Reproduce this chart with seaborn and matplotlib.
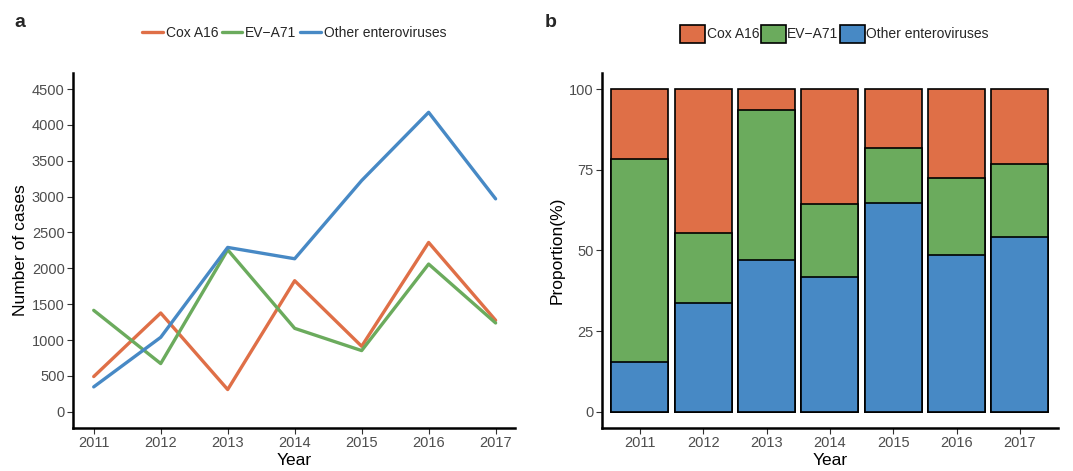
import matplotlib
matplotlib.use("Agg")
import matplotlib.pyplot as plt
import seaborn as sns
import pandas as pd
import numpy as np
from matplotlib.patches import Patch
from matplotlib.lines import Line2D

years = [2011, 2012, 2013, 2014, 2015, 2016, 2017]
cox_a16 = [492, 1378, 311, 1828, 914, 2361, 1276]
ev_a71 = [1415, 673, 2259, 1164, 854, 2060, 1239]
other_ev = [348, 1039, 2292, 2134, 3224, 4175, 2969]
series_names = ["Cox A16", "EV\u2212A71", "Other enteroviruses"]
colors = ["#DF6F47", "#6BAB5D", "#4789C5"]

sns.set_theme(style="ticks")
plt.rcParams['font.family'] = ['Liberation Sans', 'DejaVu Sans']

long = pd.DataFrame({
    "Year": years * 3,
    "Cases": cox_a16 + ev_a71 + other_ev,
    "Virus": [series_names[0]] * 7 + [series_names[1]] * 7 + [series_names[2]] * 7,
})

tot = np.array(cox_a16) + np.array(ev_a71) + np.array(other_ev)
p_other = np.array(other_ev) / tot * 100
p_ev = np.array(ev_a71) / tot * 100
p_cox = np.array(cox_a16) / tot * 100
prop = pd.DataFrame({
    "Year": [str(y) for y in years],
    "top": p_other + p_ev + p_cox,
    "mid": p_other + p_ev,
    "low": p_other,
})

fig = plt.figure(figsize=(10.73, 4.71), dpi=100)
ax1 = fig.add_axes([0.068, 0.0913, 0.412, 0.754])
ax2 = fig.add_axes([0.561, 0.0913, 0.425, 0.754])

tick_color = "#4D4D4D"

# Panel a
sns.lineplot(data=long, x="Year", y="Cases", hue="Virus", palette=colors,
             hue_order=series_names, linewidth=2.4, ax=ax1, legend=False)
ax1.set_xlim(2011 - 0.31, 2017 + 0.29)
ax1.set_ylim(-225, 4725)
ax1.set_xticks(years)
ax1.set_yticks(range(0, 4501, 500))
ax1.set_xlabel("Year", fontsize=12.5, color="black", labelpad=2)
ax1.set_ylabel("Number of cases", fontsize=12.5, color="black", labelpad=3)
handles1 = [Line2D([0], [0], color=c, lw=2.4) for c in colors]
ax1.legend(handles1, series_names, loc="center", bbox_to_anchor=(0.5, 1.113),
           ncol=3, frameon=False, fontsize=10, handlelength=1.5,
           handletextpad=0.2, columnspacing=0.25, borderaxespad=0)

# Panel b
for col, c in zip(["top", "mid", "low"], colors):
    sns.barplot(data=prop, x="Year", y=col, color=c, width=0.9,
                edgecolor="black", linewidth=1.2, ax=ax2, saturation=1)
ax2.set_xlim(-0.6, 6.6)
ax2.set_ylim(-5, 105)
ax2.set_yticks([0, 25, 50, 75, 100])
ax2.set_xlabel("Year", fontsize=12.5, color="black", labelpad=2)
ax2.set_ylabel("Proportion(%)", fontsize=12.5, color="black", labelpad=3)
handles2 = [Patch(facecolor=c, edgecolor="black", linewidth=1.2) for c in colors]
ax2.legend(handles2, series_names, loc="center", bbox_to_anchor=(0.51, 1.11),
           ncol=3, frameon=False, fontsize=10, handlelength=1.8,
           handleheight=1.6, handletextpad=0.1, columnspacing=0.1,
           borderaxespad=0)

for ax in (ax1, ax2):
    sns.despine(ax=ax)
    for s in ("left", "bottom"):
        ax.spines[s].set_linewidth(1.8)
        ax.spines[s].set_color("black")
    ax.tick_params(axis="both", labelsize=10.5, colors="#333333", length=4,
                   width=0.8, labelcolor=tick_color, pad=2)
    ax.set_facecolor("white")

fig.text(0.013, 0.952, "a", fontsize=14, fontweight="bold", va="center", ha="left")
fig.text(0.508, 0.952, "b", fontsize=14, fontweight="bold", va="center", ha="left")

fig.savefig("out.png", dpi=100, facecolor="white")
